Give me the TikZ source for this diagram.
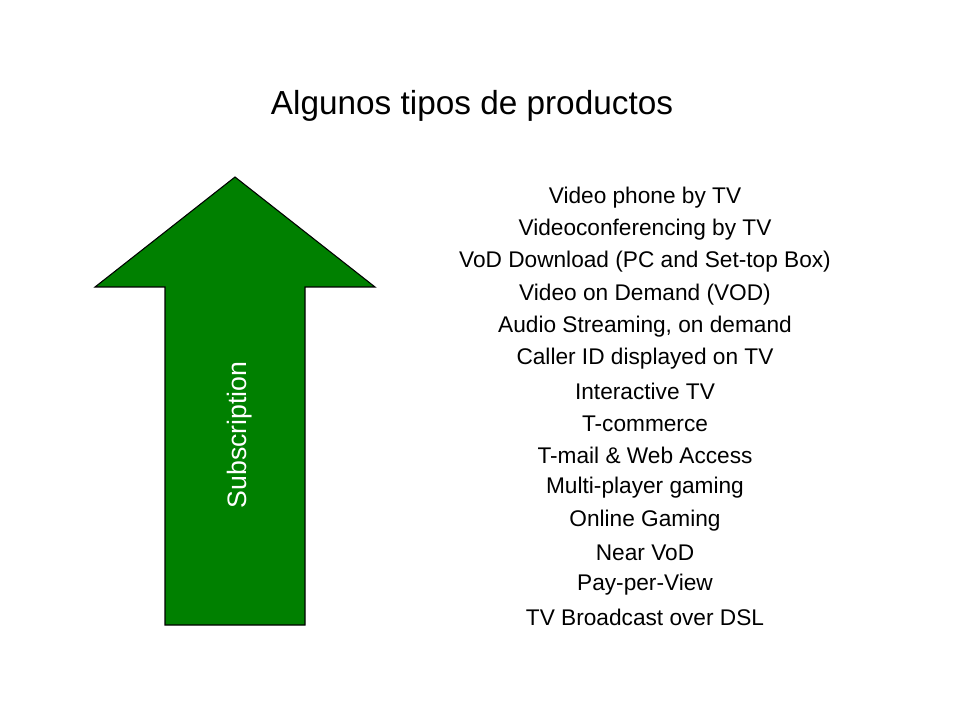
\documentclass[tikz,border=0pt]{standalone}
\usepackage{fontspec}
\setmainfont{Liberation Sans}
\definecolor{arrowgreen}{RGB}{0,128,0}
\begin{document}
\begin{tikzpicture}[x=0.75pt,y=-0.75pt]
\tikzset{item/.style={font=\fontsize{17}{20}\selectfont, anchor=center}}
\useasboundingbox (0,0) rectangle (960,720);
% title
\node[font=\fontsize{25}{30}\selectfont] (title) at (472,106) {Algunos tipos de productos};
% arrow
\draw[fill=arrowgreen, thick] (235,177) -- (375,287) -- (305,287) -- (305,625)
  -- (165,625) -- (165,287) -- (95,287) -- cycle;
\node[rotate=90, white, font=\fontsize{20}{24}\selectfont] (sub) at (240,435) {Subscription};
% list
\foreach \t [count=\i] in {Video phone by TV, Videoconferencing by TV,
  VoD Download (PC and Set-top Box), Video on Demand (VOD),
  {Audio Streaming, on demand}, Caller ID displayed on TV, Interactive TV,
  T-commerce, T-mail \& Web Access, Multi-player gaming, Online Gaming,
  Near VoD, Pay-per-View, TV Broadcast over DSL}
  \node[item] (l\i) at (645,{165+32.3*\i}) {\t};
\end{tikzpicture}
\end{document}
